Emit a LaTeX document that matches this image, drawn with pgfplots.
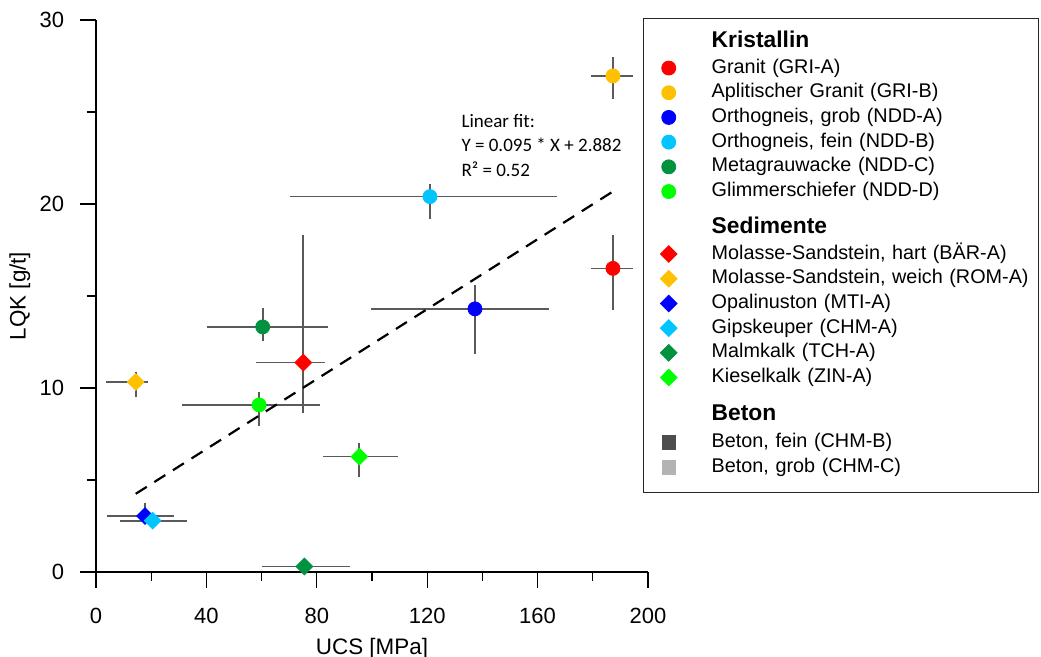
\documentclass[border=0pt]{standalone}
\usepackage{fontspec}
\setmainfont{Liberation Sans}
\newfontfamily\calib{Carlito}
\usepackage{pgfplots}
\pgfplotsset{compat=1.18}

\definecolor{cRed}{HTML}{FF0000}
\definecolor{cGold}{HTML}{FFC000}
\definecolor{cBlue}{HTML}{0000FF}
\definecolor{cCyan}{HTML}{00C5FF}
\definecolor{cDkGreen}{HTML}{00923F}
\definecolor{cLime}{HTML}{00FF00}
\definecolor{cBetonF}{HTML}{4D4D4D}
\definecolor{cBetonG}{HTML}{B3B3B3}
\definecolor{cBar}{HTML}{5A5A5A}

% legend rows: strut with given depth and total height
\newcommand{\entry}[1]{\rule[-3.5pt]{0pt}{12.35pt}#1}
\newcommand{\lastentry}[1]{\rule[-6.3pt]{0pt}{15.15pt}#1}
\newcommand{\hdr}[3]{\rule[#1]{0pt}{#2}{\fontsize{11.4}{13}\selectfont\bfseries #3}}

\pgfplotsset{
  lm/.style={legend image code/.code={
      \path[draw=none,fill=none] (-12pt,-1.2pt) rectangle (4.6pt,6.4pt);
      \draw[line width=0.4pt,##1] plot coordinates {(0pt,2.5pt)};
  }},
  ebar/.style={
    /pgfplots/error bars/x dir=both, /pgfplots/error bars/x explicit,
    /pgfplots/error bars/y dir=both, /pgfplots/error bars/y explicit,
    /pgfplots/error bars/error mark=none,
    /pgfplots/error bars/error bar style={line width=0.85pt, color=cBar},
  },
  circ/.style={only marks, mark=*, mark size=3.5pt, color=#1, lm, ebar},
  diam/.style={only marks, mark=square*, mark size=2.95pt, mark options={rotate=45}, color=#1, lm, ebar},
  sq/.style={only marks, mark=square*, mark size=3.4pt, color=#1, lm},
  /pgfplots/table/errtab/.style={
    /pgfplots/table/x=x, /pgfplots/table/y=y,
    /pgfplots/table/x error plus=xp, /pgfplots/table/x error minus=xm,
    /pgfplots/table/y error plus=yp, /pgfplots/table/y error minus=ym},
}

\begin{document}
\begin{tikzpicture}
\useasboundingbox (-48pt,-42.5pt) rectangle (472.5pt,286pt);
\begin{axis}[
  at={(0pt,0pt)}, anchor=south west,
  scale only axis, width=276pt, height=276pt,
  xmin=0, xmax=200, ymin=0, ymax=30,
  axis x line*=bottom, axis y line*=left,
  axis line style={line width=0.65pt, black, -},
  xtick align=outside, ytick align=outside,
  major tick length=8pt, minor tick length=4.5pt,
  tick style={line width=0.65pt, black},
  xtick={0,40,...,200}, ytick={0,10,20,30},
  minor x tick num=1, minor y tick num=1,
  /pgf/number format/assume math mode=true,
  tick label style={font=\fontsize{11}{13}\selectfont},
  xticklabel style={anchor=north, inner sep=0pt, yshift=-10pt},
  yticklabel style={anchor=east, inner sep=0pt, xshift=-7.75pt},
  label style={font=\fontsize{11.2}{13}\selectfont},
  xlabel={UCS [MPa]},
  ylabel={LQK [g/t]},
  xlabel style={at={(axis description cs:0.5,-0.1486)}, anchor=base, inner sep=0pt},
  ylabel style={at={(axis description cs:-0.1277,0.5)}, anchor=base, inner sep=0pt},
  legend cell align=left,
  legend style={
    at={(axis description cs:0.99094,1.00362)}, anchor=north west,
    draw=black!85, line width=0.75pt, fill=white,
    inner xsep=0.5pt, inner ysep=4pt,
    row sep=0pt, column sep=16.9pt,
    cells={anchor=base west},
    nodes={inner sep=0pt, text depth={}, text width=163pt, align=left,
           font=\fontsize{9.9}{11.5}\selectfont, line width=0.4pt},
  },
]

\addlegendimage{empty legend}
\addlegendentry{\hdr{-3.95pt}{14.3pt}{Kristallin}}

% Kristallin
\addplot[circ=cRed] table[errtab] {
x y xp xm yp ym
187.3 16.5 7.1 8.0 1.81 2.27
};
\addlegendentry{\entry{Granit (GRI-A)}}

\addplot[circ=cGold] table[errtab] {
x y xp xm yp ym
187.3 26.96 7.1 8.0 1.05 1.25
};
\addlegendentry{\entry{Aplitischer Granit (GRI-B)}}

\addplot[circ=cBlue] table[errtab] {
x y xp xm yp ym
137.3 14.3 26.9 37.8 1.29 2.43
};
\addlegendentry{\entry{Orthogneis, grob (NDD-A)}}

\addplot[circ=cCyan] table[errtab] {
x y xp xm yp ym
121.0 20.4 45.9 50.7 0.69 1.21
};
\addlegendentry{\entry{Orthogneis, fein (NDD-B)}}

\addplot[circ=cDkGreen] table[errtab] {
x y xp xm yp ym
60.4 13.32 23.8 20.3 1.05 0.75
};
\addlegendentry{\entry{Metagrauwacke (NDD-C)}}

\addplot[circ=cLime] table[errtab] {
x y xp xm yp ym
59.1 9.08 22.1 28.0 0.72 1.14
};
\addlegendentry{\entry{Glimmerschiefer (NDD-D)}}

\addlegendimage{empty legend}
\addlegendentry{\hdr{-4.15pt}{18.9pt}{Sedimente}}

% Sedimente
\addplot[diam=cRed] table[errtab] {
x y xp xm yp ym
75.1 11.38 7.9 17.1 6.94 2.72
};
\addlegendentry{\entry{Molasse-Sandstein, hart (BÄR-A)}}

\addplot[diam=cGold] table[errtab] {
x y xp xm yp ym
14.4 10.33 4.3 10.9 0.56 0.84
};
\addlegendentry{\entry{Molasse-Sandstein, weich (ROM-A)}}

\addplot[diam=cBlue] table[errtab] {
x y xp xm yp ym
17.75 3.04 10.6 13.9 0.73 0.3
};
\addlegendentry{\entry{Opalinuston (MTI-A)}}

\addplot[diam=cCyan] table[errtab] {
x y xp xm yp ym
20.5 2.79 12.4 11.8 0.3 0.3
};
\addlegendentry{\entry{Gipskeuper (CHM-A)}}

\addplot[diam=cDkGreen] table[errtab] {
x y xp xm yp ym
75.5 0.3 16.5 15.2 0 0
};
\addlegendentry{\entry{Malmkalk (TCH-A)}}

\addplot[diam=cLime] table[errtab] {
x y xp xm yp ym
95.4 6.27 14.0 13.3 0.73 1.12
};
\addlegendentry{\entry{Kieselkalk (ZIN-A)}}

\addlegendimage{empty legend}
\addlegendentry{\hdr{-4.5pt}{20.1pt}{Beton}}

\addlegendimage{sq=cBetonF}
\addlegendentry{\entry{Beton, fein (CHM-B)}}
\addlegendimage{sq=cBetonG}
\addlegendentry{\lastentry{Beton, grob (CHM-C)}}

% linear fit Y = 0.095 X + 2.882 over the data range
\addplot[black, line width=1.1pt, dash pattern=on 6.5pt off 4.5pt, forget plot]
  coordinates {(14.4,4.25) (187.3,20.68)};

\node[anchor=base west, inner sep=0pt, font=\calib\fontsize{9.5}{11}\selectfont]
  at (axis cs:132.3,24.17) {Linear fit:};
\node[anchor=base west, inner sep=0pt, font=\calib\fontsize{9.5}{11}\selectfont]
  at (axis cs:132.3,22.84) {Y = 0.095 * X + 2.882};
\node[anchor=base west, inner sep=0pt, font=\calib\fontsize{9.5}{11}\selectfont]
  at (axis cs:132.3,21.48) {R² = 0.52};
\end{axis}
\end{tikzpicture}
\end{document}
